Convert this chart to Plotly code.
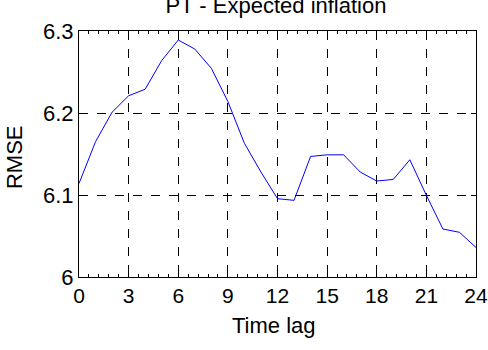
import plotly.graph_objects as go

time_lag = list(range(25))
rmse = [6.114, 6.165, 6.201, 6.221, 6.229, 6.264, 6.289, 6.278, 6.2545, 6.214,
        6.163, 6.128, 6.0955, 6.0935, 6.147, 6.149, 6.149, 6.128, 6.117, 6.119,
        6.143, 6.0996, 6.0585, 6.0545, 6.036]
x_ticks = [0, 3, 6, 9, 12, 15, 18, 21, 24]
y_ticks = [6, 6.1, 6.2, 6.3]
y_tick_text = ["6", "6.1", "6.2", "6.3"]

font = "Liberation Sans, Arial, sans-serif"

fig = go.Figure()
fig.add_trace(go.Scatter(x=time_lag, y=rmse, mode="lines",
                         line=dict(color="#0000ff", width=1), showlegend=False))

fig.update_layout(
    width=488, height=350,
    margin=dict(l=79, r=12, t=31, b=73, autoexpand=False),
    paper_bgcolor="white", plot_bgcolor="white",
    font=dict(family=font, size=22, color="black"),
    title=dict(text="PT - Expected inflation", x=276 / 488, xanchor="center",
               y=1 - 5 / 350, yanchor="middle", yref="container",
               font=dict(size=22)),
    annotations=[
        dict(text="Time lag", xref="paper", yref="paper", x=0.49, y=-0.199,
             xanchor="center", yanchor="middle", showarrow=False, font=dict(size=22)),
        dict(text="RMSE", xref="paper", yref="paper", x=-0.161, y=0.488,
             xanchor="center", yanchor="middle", textangle=-90, showarrow=False,
             font=dict(size=22)),
    ],
)
fig.update_xaxes(
    range=[0, 24], tickvals=x_ticks, ticks="inside", ticklen=5, tickcolor="black",
    showline=True, linecolor="black", linewidth=1, mirror="ticks",
    showgrid=True, gridcolor="black", griddash="dash", gridwidth=1,
    zeroline=False, automargin=False,
    minor=dict(dtick=0.6, tick0=0, ticks="inside", ticklen=3, tickcolor="black", showgrid=False),
    tickfont=dict(size=21),
)
fig.update_yaxes(
    range=[6, 6.3], tickvals=y_ticks, ticktext=y_tick_text, ticks="inside", ticklen=5,
    tickcolor="black",
    showline=True, linecolor="black", linewidth=1, mirror="ticks",
    showgrid=True, gridcolor="black", griddash="dash", gridwidth=1,
    zeroline=False, automargin=False,
    tickfont=dict(size=22),
)
fig.write_html("out.html")
